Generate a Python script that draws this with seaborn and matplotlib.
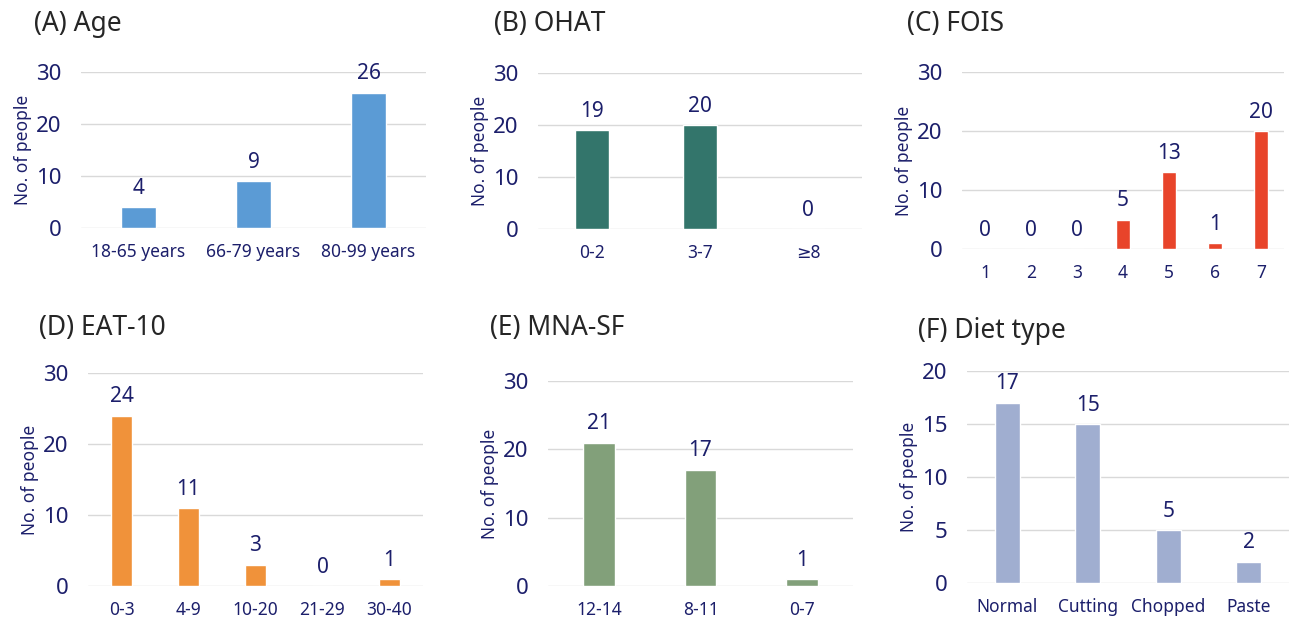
import matplotlib
matplotlib.use("Agg")
import matplotlib.pyplot as plt
import seaborn as sns

# data
age_cats = ["18-65 years", "66-79 years", "80-99 years"]
age_vals = [4, 9, 26]
ohat_cats = ["0-2", "3-7", "≥8"]
ohat_vals = [19, 20, 0]
fois_cats = ["1", "2", "3", "4", "5", "6", "7"]
fois_vals = [0, 0, 0, 5, 13, 1, 20]
eat_cats = ["0-3", "4-9", "10-20", "21-29", "30-40"]
eat_vals = [24, 11, 3, 0, 1]
mna_cats = ["12-14", "8-11", "0-7"]
mna_vals = [21, 17, 1]
diet_cats = ["Normal", "Cutting", "Chopped", "Paste"]
diet_vals = [17, 15, 5, 2]

sns.set_style("white")
plt.rcParams["font.family"] = ["Noto Sans", "DejaVu Sans"]

navy = "#1c1f6b"
W, H = 1290, 618


def px_axes(fig, x0, x1, ytop, ybot):
    # axes box from pixel edges of the reference
    return fig.add_axes([x0 / W, 1 - ybot / H, (x1 - x0) / W, (ybot - ytop) / H])


def panel(ax, cats, vals, color, ymax, step):
    sns.barplot(x=cats, y=vals, color=color, width=0.31, ax=ax, saturation=1)
    ax.set_xlim(-0.5, len(cats) - 0.5)
    ax.set_ylim(0, ymax)
    ax.set_yticks(range(0, ymax + 1, step))
    ax.yaxis.grid(True, color="#d9d9d9", lw=1)
    ax.set_axisbelow(True)
    sns.despine(ax=ax, left=True, bottom=True)
    ax.tick_params(axis="y", length=0, pad=14, labelsize=16, labelcolor=navy)
    ax.tick_params(axis="x", length=0, pad=11, labelsize=12.5, labelcolor=navy)
    ax.set_ylabel("No. of people", fontsize=12.5, color=navy, labelpad=3)
    ax.bar_label(ax.containers[0], padding=6, fontsize=15, color=navy)


def title(fig, x, y, s):
    fig.text(x / W, 1 - y / H, s, fontsize=19, ha="left", va="center")


fig = plt.figure(figsize=(W / 100, H / 100), dpi=100)

ax = px_axes(fig, 81, 426, 72, 228)
panel(ax, age_cats, age_vals, "#5b9bd5", 30, 10)
title(fig, 34, 24, "(A) Age")

ax = px_axes(fig, 538, 862, 73, 229)
panel(ax, ohat_cats, ohat_vals, "#33756b", 30, 10)
title(fig, 494, 24, "(B) OHAT")

ax = px_axes(fig, 962, 1284, 72, 249)
panel(ax, fois_cats, fois_vals, "#e8442a", 30, 10)
title(fig, 907, 24, "(C) FOIS")

ax = px_axes(fig, 88, 423, 373, 586)
panel(ax, eat_cats, eat_vals, "#f0923a", 30, 10)
title(fig, 39, 328, "(D) EAT-10")

ax = px_axes(fig, 548, 853, 381, 586)
panel(ax, mna_cats, mna_vals, "#82a07a", 30, 10)
title(fig, 490, 328, "(E) MNA-SF")

ax = px_axes(fig, 967, 1289, 371, 583)
panel(ax, diet_cats, diet_vals, "#a0aed0", 20, 5)
title(fig, 918, 331, "(F) Diet type")

fig.savefig("out.png", dpi=100)
